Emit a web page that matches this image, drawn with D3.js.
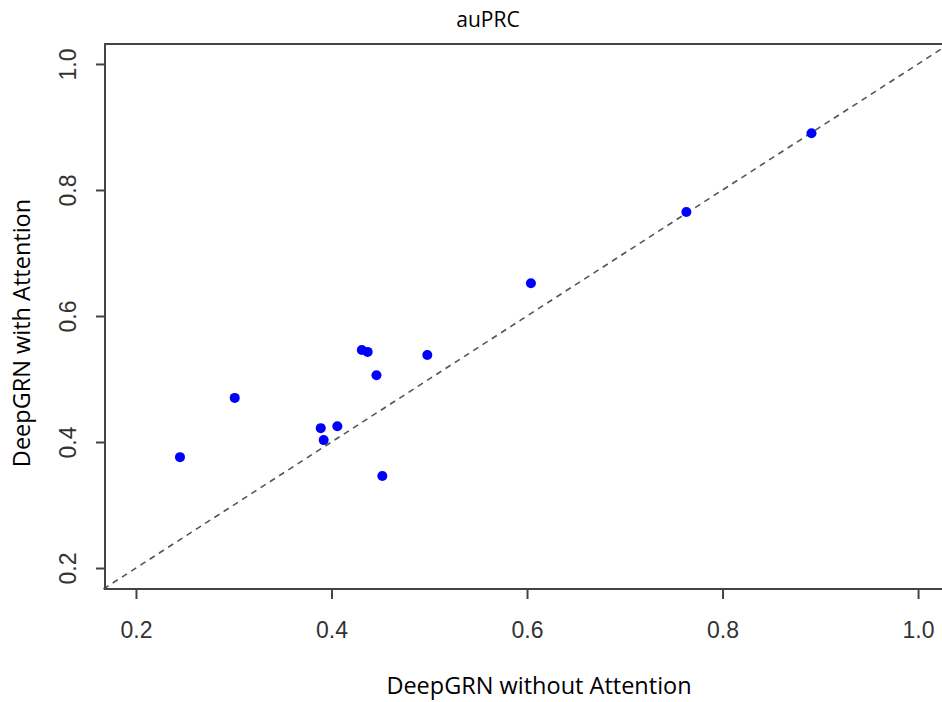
<!DOCTYPE html>
<html>
<head>
<meta charset="utf-8">
<script src="https://cdn.jsdelivr.net/npm/d3@7"></script>
<style>
  body { margin: 0; background: #fff; }
  svg { display: block; }
</style>
</head>
<body>
<div id="chart-container"></div>
<script>
// auPRC values: without attention (x) vs with attention (y)
var without_att = [0.245, 0.301, 0.389, 0.392, 0.406, 0.431, 0.437, 0.446, 0.452, 0.498, 0.604, 0.763, 0.891];
var with_att    = [0.376, 0.470, 0.422, 0.403, 0.425, 0.546, 0.543, 0.506, 0.346, 0.538, 0.652, 0.765, 0.890];
var x_ticks = [0.2, 0.4, 0.6, 0.8, 1.0];
var y_ticks = [0.2, 0.4, 0.6, 0.8, 1.0];

var W = 942, H = 702;
var left = 105, top_ = 44, right = 942, bottom = 589;

var svg = d3.select("#chart-container")
    .append("svg")
    .attr("width", W)
    .attr("height", H);

var x = d3.scaleLinear()
    .domain([0.1683, 1.0245])
    .range([left, right]);

var y = d3.scaleLinear()
    .domain([0.1667, 1.0317])
    .range([bottom, top_]);

// dashed y = x line
var lo = 0.1667, hi = 1.0245;
svg.append("line")
    .attr("x1", x(lo)).attr("y1", y(lo))
    .attr("x2", x(hi)).attr("y2", y(hi))
    .attr("stroke", "#555")
    .attr("stroke-width", 1.6)
    .attr("stroke-dasharray", "6,5");

// points
var pts = without_att.map(function(d, i) { return {x: d, y: with_att[i]}; });
svg.selectAll("circle.pt")
    .data(pts)
    .enter()
    .append("circle")
    .attr("class", "pt")
    .attr("cx", function(d) { return x(d.x); })
    .attr("cy", function(d) { return y(d.y); })
    .attr("r", 5)
    .attr("fill", "#0000ff");

// box (right edge is outside the window)
svg.append("path")
    .attr("d", "M" + (right + 5) + "," + top_ + "H" + left + "V" + bottom + "H" + (right + 5))
    .attr("fill", "none")
    .attr("stroke", "#444")
    .attr("stroke-width", 2);

// axes
var xAxis = d3.axisBottom(x)
    .tickValues(x_ticks)
    .tickFormat(d3.format(".1f"))
    .tickSize(10)
    .tickPadding(0);

var gx = svg.append("g")
    .attr("class", "x-axis")
    .attr("transform", "translate(0," + bottom + ")")
    .call(xAxis);
gx.select(".domain").remove();
gx.selectAll("line").attr("stroke", "#444").attr("stroke-width", 2);
gx.selectAll("text")
    .attr("y", 49)
    .attr("dy", null)
    .style("font-family", "'Liberation Sans', Arial, sans-serif")
    .style("font-size", "23px")
    .attr("fill", "#333");

var yAxis = d3.axisLeft(y)
    .tickValues(y_ticks)
    .tickFormat(d3.format(".1f"));

var gy = svg.append("g")
    .attr("class", "y-axis")
    .attr("transform", "translate(" + left + ",0)")
    .call(yAxis.tickSize(9));
gy.select(".domain").remove();
gy.selectAll("line").attr("stroke", "#444").attr("stroke-width", 2);
gy.selectAll("text")
    .attr("x", null).attr("dy", null)
    .attr("transform", "translate(-29,0) rotate(-90)")
    .attr("text-anchor", "middle")
    .attr("y", 0)
    .style("font-family", "'Liberation Sans', Arial, sans-serif")
    .style("font-size", "23px")
    .attr("fill", "#333");

// titles
svg.append("text")
    .attr("x", 488)
    .attr("y", 27)
    .attr("text-anchor", "middle")
    .style("font-family", "'Open Sans', 'Noto Sans', sans-serif")
    .style("font-size", "21px")
    .text("auPRC");

svg.append("text")
    .attr("x", 539)
    .attr("y", 694)
    .attr("text-anchor", "middle")
    .style("font-family", "'Open Sans', 'Noto Sans', sans-serif")
    .style("font-size", "23.5px")
    .text("DeepGRN without Attention");

svg.append("text")
    .attr("transform", "translate(30,333) rotate(-90)")
    .attr("text-anchor", "middle")
    .style("font-family", "'Open Sans', 'Noto Sans', sans-serif")
    .style("font-size", "23.5px")
    .text("DeepGRN with Attention");
</script>
</body>
</html>
